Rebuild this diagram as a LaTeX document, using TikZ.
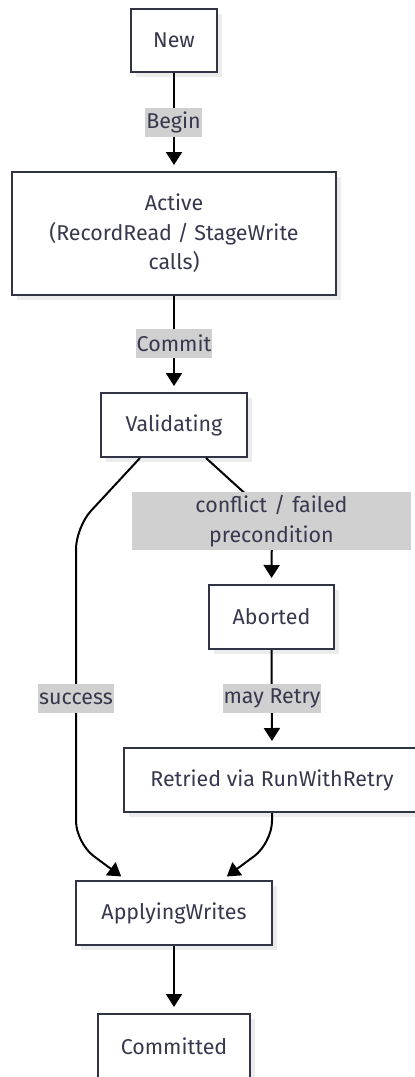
\documentclass[tikz,border=0pt]{standalone}
\usepackage{fontspec}
\setmainfont{Fira Sans}
\usetikzlibrary{arrows.meta,calc,shadows}
\definecolor{boxC}{RGB}{51,51,70}
\definecolor{txtC}{RGB}{55,55,78}
\definecolor{lblbg}{RGB}{208,208,208}
\definecolor{shadowC}{RGB}{236,236,236}
\newcommand{\fsz}{\fontsize{21.5}{29.5}\selectfont}
\tikzset{
  state/.style={draw=boxC, line width=2bp, fill=white, text=txtC, inner sep=0pt,
    font=\fsz, align=center,
    drop shadow={shadow xshift=5bp, shadow yshift=-5bp, fill=shadowC, opacity=1}},
  lbl/.style={fill=lblbg, text=txtC, inner xsep=1bp, inner ysep=0pt,
    minimum height=29bp, font=\fsz, align=center},
  conn/.style={draw=black, line width=2bp, -{Triangle[length=13bp,width=16bp]}, shorten >=6bp},
}
\begin{document}
\begin{tikzpicture}[x=1bp,y=-1bp]
\useasboundingbox (0,0) rectangle (414,1077);
% states
\node[state, minimum width=86bp, minimum height=63bp] (new) at (174,40.5) {New};
\node[state, minimum width=324bp, minimum height=123bp] (act) at (174,233.5)
  {Active\\(RecordRead / StageWrite\\calls)};
\node[state, minimum width=146bp, minimum height=64bp] (val) at (174,425) {Validating};
\node[state, minimum width=125bp, minimum height=64bp] (abt) at (271.5,617) {Aborted};
\node[state, minimum width=296bp, minimum height=64bp] (ret) at (272,780) {Retried via RunWithRetry};
\node[state, minimum width=196bp, minimum height=64bp] (apw) at (174,913) {ApplyingWrites};
\node[state, minimum width=152bp, minimum height=64bp] (cmt) at (174,1046) {Committed};
% corner coordinates
\coordinate (c1) at (76,527);
\coordinate (c2) at (76,843);
\coordinate (c3) at (272,518);
\coordinate (c4) at (272,843);
% edges
\draw[conn] (new.south) -- (act.north);
\draw[conn] (act.south) -- (val.north);
\draw[conn, rounded corners=22bp] ($(val.south)+(-34,0)$) -- (c1) -- (c2) -- ($(apw.north west)+(51,0)$);
\draw[conn, rounded corners=22bp] ($(val.south)+(32,0)$) -- (c3) -- (abt.north);
\draw[conn] (abt.south) -- (ret.north);
\draw[conn, rounded corners=22bp] (ret.south) -- (c4) -- ($(apw.north east)+(-51,0)$);
\draw[conn] (apw.south) -- (cmt.north);
% labels
\node[lbl] (lb1) at (173.5,122) {Begin};
\node[lbl] (lb2) at (174,343.5) {Commit};
\node[lbl, minimum width=279bp, minimum height=58bp, text width=277bp] (lb3) at (271.5,521)
  {conflict / failed\\precondition};
\node[lbl] (lb4) at (272,698.5) {may Retry};
\node[lbl] (lb5) at (76,698.5) {success};
\end{tikzpicture}
\end{document}
